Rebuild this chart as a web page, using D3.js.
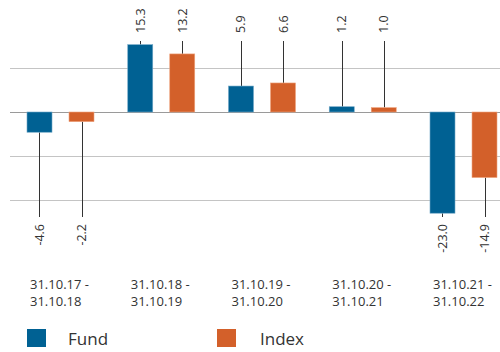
<!DOCTYPE html>
<html>
<head>
<meta charset="utf-8">
<script src="https://cdn.jsdelivr.net/npm/d3@7"></script>
<style>
  body { margin: 0; background: #fff; }
  text { font-family: "Open Sans", sans-serif; font-weight: 400; fill: #333; }
</style>
</head>
<body>
<div class="chart"></div>
<script>
// chart data
var categories = ["31.10.17 - 31.10.18", "31.10.18 - 31.10.19", "31.10.19 - 31.10.20", "31.10.20 - 31.10.21", "31.10.21 - 31.10.22"];
var series = ["Fund", "Index"];
var fundValues = [-4.6, 15.3, 5.9, 1.2, -23.0];
var indexValues = [-2.2, 13.2, 6.6, 1.0, -14.9];
var gridTicks = [-20, -10, 0, 10];

var colors = {Fund: "#006193", Index: "#d3602a"};
var strokes = {Fund: "#6fa6c6", Index: "#eea47f"};

var width = 500, height = 352;

var svg = d3.select(".chart").append("svg")
    .attr("width", width)
    .attr("height", height);

// scales
var x0 = d3.scaleBand().domain(categories).range([27, 27 + 5 * 100.75]);
var x1 = d3.scaleBand().domain(series).range([0, 67]).paddingInner(0.405);
var yScale = d3.scaleLinear().domain([-20, 10]).range([200, 68]);

// gridlines
svg.selectAll(".grid")
    .data(gridTicks)
    .enter().append("line")
    .attr("class", "grid")
    .attr("x1", 10)
    .attr("x2", 500)
    .attr("y1", function(d) { return yScale(d) + 0.5; })
    .attr("y2", function(d) { return yScale(d) + 0.5; })
    .attr("stroke", function(d) { return d === 0 ? "#9a9a9a" : "#c4c4c4"; })
    .attr("stroke-width", 1);

// flatten rows
var rows = [];
categories.forEach(function(c, i) {
    rows.push({cat: c, key: "Fund", value: fundValues[i]});
    rows.push({cat: c, key: "Index", value: indexValues[i]});
});

var posEnd = 41, negEnd = 217;

// leader lines
svg.selectAll(".leader")
    .data(rows)
    .enter().append("line")
    .attr("class", "leader")
    .attr("x1", function(d) { return Math.round(x0(d.cat) + x1(d.key) + x1.bandwidth() / 2) + 0.5; })
    .attr("x2", function(d) { return Math.round(x0(d.cat) + x1(d.key) + x1.bandwidth() / 2) + 0.5; })
    .attr("y1", function(d) { return yScale(d.value); })
    .attr("y2", function(d) { return d.value >= 0 ? posEnd : negEnd; })
    .attr("stroke", "#333")
    .attr("stroke-width", 1);

// bars
svg.selectAll(".bar")
    .data(rows)
    .enter().append("rect")
    .attr("class", "bar")
    .attr("x", function(d) { return x0(d.cat) + x1(d.key); })
    .attr("width", x1.bandwidth())
    .attr("y", function(d) { return yScale(Math.max(0, d.value)); })
    .attr("height", function(d) { return Math.abs(yScale(d.value) - yScale(0)); })
    .attr("fill", function(d) { return colors[d.key]; })
    .attr("stroke", function(d) { return strokes[d.key]; })
    .attr("stroke-width", 0.6);

// value labels (rotated)
svg.selectAll(".val")
    .data(rows)
    .enter().append("text")
    .attr("class", "val")
    .attr("transform", function(d) {
        var cx = x0(d.cat) + x1(d.key) + x1.bandwidth() / 2 + 4.5;
        var ty = d.value >= 0 ? 33 : 224;
        return "translate(" + cx + "," + ty + ") rotate(-90)";
    })
    .attr("text-anchor", function(d) { return d.value >= 0 ? "start" : "end"; })
    .style("font-size", "12.5px")
    .text(function(d) { return d.value.toFixed(1); });

// category labels
var catLabels = svg.selectAll(".cat")
    .data(categories)
    .enter().append("text")
    .attr("class", "cat")
    .attr("x", function(d) { return x0(d) + 3; })
    .attr("y", 289)
    .style("font-size", "13px");

catLabels.append("tspan")
    .attr("x", function(d) { return x0(d) + 3; })
    .text(function(d) { return d.split(" - ")[0] + " -"; });
catLabels.append("tspan")
    .attr("x", function(d) { return x0(d) + 3; })
    .attr("dy", 17)
    .text(function(d) { return d.split(" - ")[1]; });

// legend
var legendX = [27, 217];
var legend = svg.selectAll(".legend")
    .data(series)
    .enter().append("g")
    .attr("class", "legend")
    .attr("transform", function(d, i) { return "translate(" + legendX[i] + ",329)"; });

legend.append("rect")
    .attr("width", 19)
    .attr("height", 18)
    .attr("fill", function(d) { return colors[d]; });

legend.append("text")
    .attr("x", function(d) { return d === "Fund" ? 41 : 43; })
    .attr("y", 16)
    .style("font-size", "17px")
    .text(function(d) { return d; });
</script>
</body>
</html>
